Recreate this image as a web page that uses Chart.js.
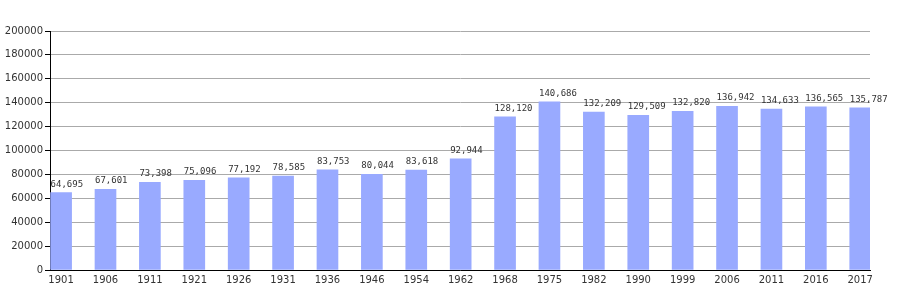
<!DOCTYPE html>
<html>
<head>
<meta charset="utf-8">
<script src="https://cdn.jsdelivr.net/npm/chart.js@4"></script>
<style>
  html, body { margin: 0; padding: 0; background: #fff; }
  #wrap { width: 900px; height: 300px; }
</style>
</head>
<body>
<div id="wrap"><canvas id="chart"></canvas></div>
<script>
// années du recensement et population
const annees = ["1901", "1906", "1911", "1921", "1926", "1931", "1936", "1946", "1954", "1962",
  "1968", "1975", "1982", "1990", "1999", "2006", "2011", "2016", "2017"];
const population = [64695, 67601, 73398, 75096, 77192, 78585, 83753, 80044, 83618, 92944,
  128120, 140686, 132209, 129509, 132820, 136942, 134633, 136565, 135787];
const ticksY = [0, 20000, 40000, 60000, 80000, 100000, 120000, 140000, 160000, 180000, 200000];

// étiquettes de valeur au-dessus des barres
const etiquettesValeurs = {
  id: "etiquettesValeurs",
  afterDatasetsDraw(chart) {
    const ctx = chart.ctx;
    const meta = chart.getDatasetMeta(0);
    ctx.save();
    ctx.font = "9px 'DejaVu Sans Mono'";
    ctx.fillStyle = "#333";
    ctx.textAlign = "left";
    ctx.textBaseline = "bottom";
    meta.data.forEach((barre, i) => {
      const texte = population[i].toLocaleString("en-US");
      ctx.fillText(texte, barre.x - barre.width / 2, barre.y - 4);
    });
    ctx.restore();
  },
};

const ctx = document.getElementById("chart").getContext("2d");
new Chart(ctx, {
  type: "bar",
  data: {
    datasets: [
      {
        data: population.map((v, i) => ({ x: i, y: v })),
        backgroundColor: "#99aaff",
        borderWidth: 0,
        barThickness: 21,
      },
    ],
  },
  options: {
    responsive: true,
    maintainAspectRatio: false,
    animation: false,
    layout: { padding: { top: 31, right: 30, left: 0, bottom: 0 } },
    plugins: { legend: { display: false }, tooltip: { enabled: false } },
    scales: {
      x: {
        type: "linear",
        offset: false,
        min: -0.25,
        max: 18.22,
        grid: { display: false, drawTicks: false },
        border: { display: true, color: "#000", width: 1 },
        afterBuildTicks: (scale) => {
          scale.ticks = annees.map((a, i) => ({ value: i }));
        },
        afterFit: (scale) => { scale.height = 30; },
        ticks: {
          autoSkip: false,
          maxRotation: 0,
          padding: 4,
          color: "#333",
          font: { family: "DejaVu Sans", size: 10 },
          callback: (v) => annees[v],
        },
      },
      y: {
        min: 0,
        max: 200000,
        afterBuildTicks: (scale) => {
          scale.ticks = ticksY.map((v) => ({ value: v }));
        },
        afterFit: (scale) => { scale.width = 50; },
        grid: { color: "#aaa", tickColor: "#000", tickLength: 5 },
        border: { display: true, color: "#000", width: 1 },
        ticks: {
          padding: 2,
          color: "#333",
          font: { family: "DejaVu Sans", size: 10 },
          callback: (v) => String(v),
        },
      },
    },
  },
  plugins: [etiquettesValeurs],
});
</script>
</body>
</html>
